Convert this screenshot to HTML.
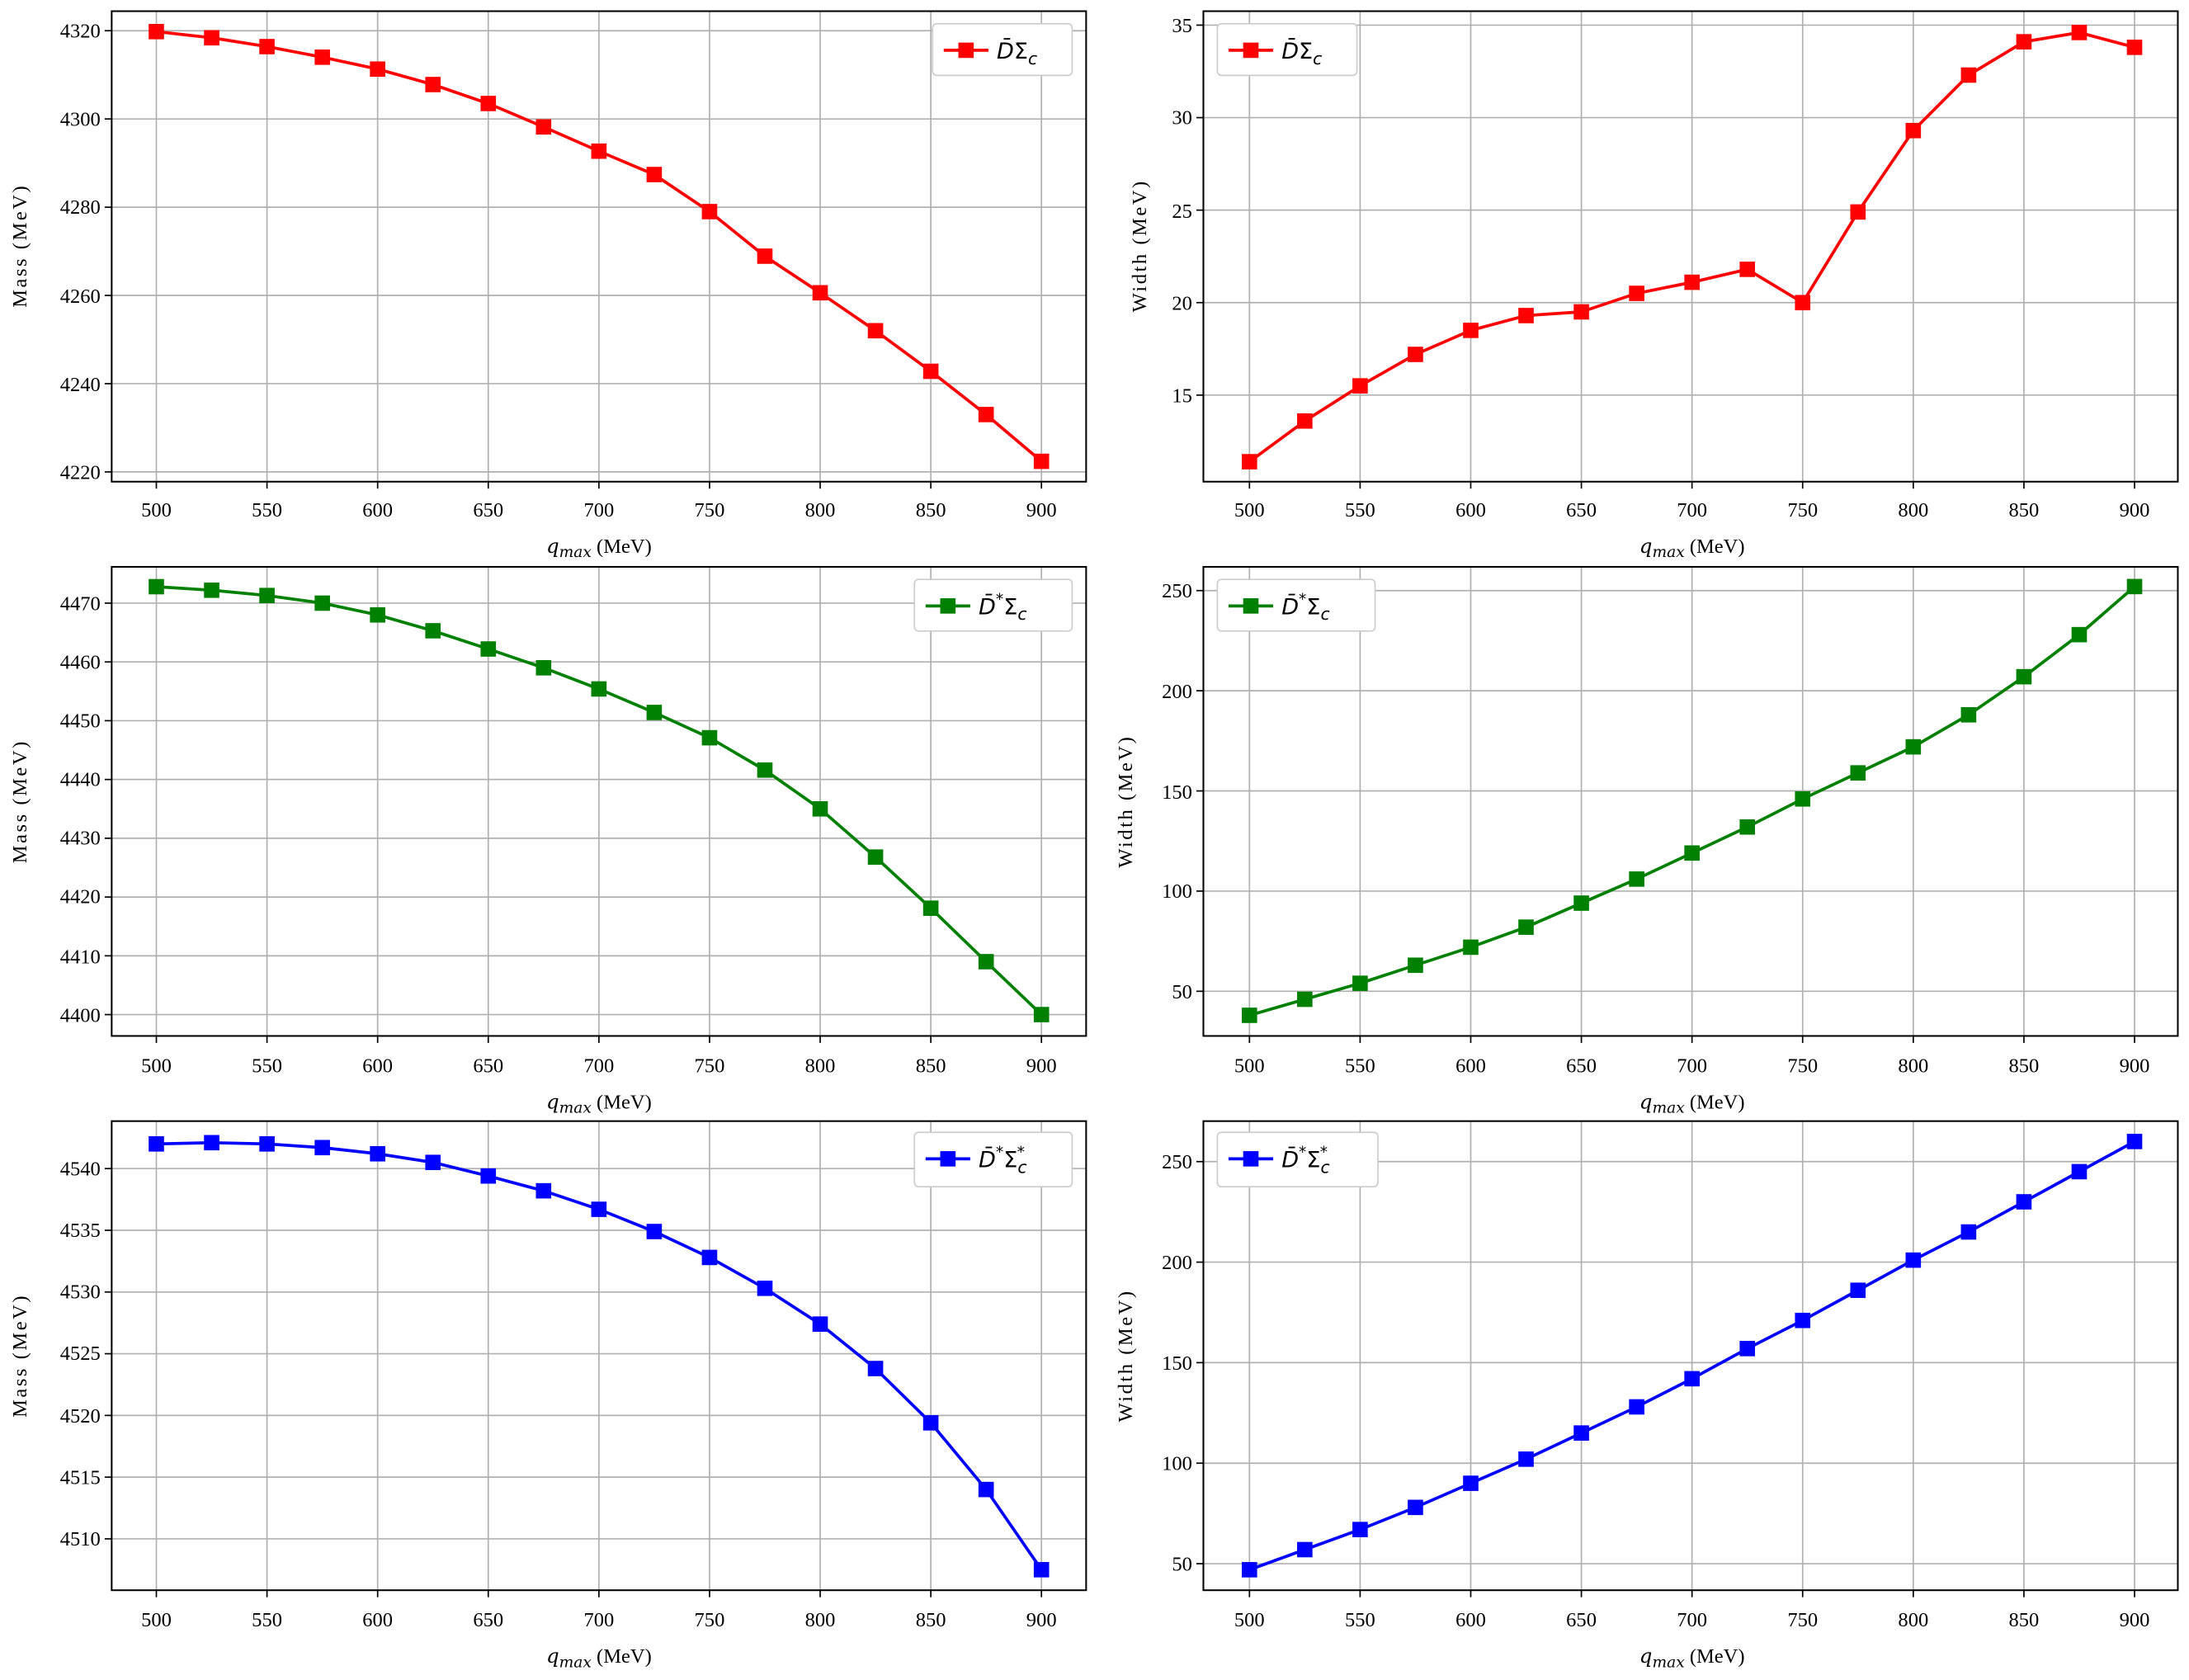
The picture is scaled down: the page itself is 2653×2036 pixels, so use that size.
<!DOCTYPE html>
<html><head><meta charset="utf-8"><style>
html,body{margin:0;padding:0;background:#fff}
svg{display:block}
text{font-family:"Liberation Serif","Noto Serif CJK SC",serif;font-size:14.5px;fill:#000}
.yt{text-anchor:end}.xt{text-anchor:middle}
.yl{letter-spacing:1.5px}
.lg{font-family:"DejaVu Sans",sans-serif;font-size:16px}
</style></head><body>
<svg id="s" width="2653" height="2036" viewBox="0 0 1568 1203.3" preserveAspectRatio="none" xmlns="http://www.w3.org/2000/svg">
<g id="grids"></g>
<g id="series"></g>
<g fill="none" stroke="#000" stroke-width="1.2">
<rect x="80" y="8" width="698" height="337"/><rect x="862" y="8" width="698" height="337"/>
<rect x="80" y="406" width="698" height="336"/><rect x="862" y="406" width="698" height="336"/>
<rect x="80" y="803" width="698" height="336"/><rect x="862" y="803" width="698" height="336"/>
</g>
<g id="xl">
<g transform="translate(0,0)">
<text class="xt" x="112" y="370">500</text><text class="xt" x="191.25" y="370">550</text><text class="xt" x="270.5" y="370">600</text><text class="xt" x="349.75" y="370">650</text><text class="xt" x="429" y="370">700</text><text class="xt" x="508.25" y="370">750</text><text class="xt" x="587.5" y="370">800</text><text class="xt" x="666.75" y="370">850</text><text class="xt" x="746" y="370">900</text>
<text class="xt" x="895" y="370">500</text><text class="xt" x="974.25" y="370">550</text><text class="xt" x="1053.5" y="370">600</text><text class="xt" x="1132.75" y="370">650</text><text class="xt" x="1212" y="370">700</text><text class="xt" x="1291.25" y="370">750</text><text class="xt" x="1370.5" y="370">800</text><text class="xt" x="1449.75" y="370">850</text><text class="xt" x="1529" y="370">900</text>
<text class="xt" x="429" y="396"><tspan font-style="italic" font-family="DejaVu Serif">q</tspan><tspan font-style="italic" font-size="11" dy="3" font-family="DejaVu Serif">max</tspan><tspan dy="-3"> (MeV)</tspan></text>
<text class="xt" x="1212" y="396"><tspan font-style="italic" font-family="DejaVu Serif">q</tspan><tspan font-style="italic" font-size="11" dy="3" font-family="DejaVu Serif">max</tspan><tspan dy="-3"> (MeV)</tspan></text>
</g>
<g transform="translate(0,398)">
<text class="xt" x="112" y="370">500</text><text class="xt" x="191.25" y="370">550</text><text class="xt" x="270.5" y="370">600</text><text class="xt" x="349.75" y="370">650</text><text class="xt" x="429" y="370">700</text><text class="xt" x="508.25" y="370">750</text><text class="xt" x="587.5" y="370">800</text><text class="xt" x="666.75" y="370">850</text><text class="xt" x="746" y="370">900</text>
<text class="xt" x="895" y="370">500</text><text class="xt" x="974.25" y="370">550</text><text class="xt" x="1053.5" y="370">600</text><text class="xt" x="1132.75" y="370">650</text><text class="xt" x="1212" y="370">700</text><text class="xt" x="1291.25" y="370">750</text><text class="xt" x="1370.5" y="370">800</text><text class="xt" x="1449.75" y="370">850</text><text class="xt" x="1529" y="370">900</text>
<text class="xt" x="429" y="396"><tspan font-style="italic" font-family="DejaVu Serif">q</tspan><tspan font-style="italic" font-size="11" dy="3" font-family="DejaVu Serif">max</tspan><tspan dy="-3"> (MeV)</tspan></text>
<text class="xt" x="1212" y="396"><tspan font-style="italic" font-family="DejaVu Serif">q</tspan><tspan font-style="italic" font-size="11" dy="3" font-family="DejaVu Serif">max</tspan><tspan dy="-3"> (MeV)</tspan></text>
</g>
<g transform="translate(0,795)">
<text class="xt" x="112" y="370">500</text><text class="xt" x="191.25" y="370">550</text><text class="xt" x="270.5" y="370">600</text><text class="xt" x="349.75" y="370">650</text><text class="xt" x="429" y="370">700</text><text class="xt" x="508.25" y="370">750</text><text class="xt" x="587.5" y="370">800</text><text class="xt" x="666.75" y="370">850</text><text class="xt" x="746" y="370">900</text>
<text class="xt" x="895" y="370">500</text><text class="xt" x="974.25" y="370">550</text><text class="xt" x="1053.5" y="370">600</text><text class="xt" x="1132.75" y="370">650</text><text class="xt" x="1212" y="370">700</text><text class="xt" x="1291.25" y="370">750</text><text class="xt" x="1370.5" y="370">800</text><text class="xt" x="1449.75" y="370">850</text><text class="xt" x="1529" y="370">900</text>
<text class="xt" x="429" y="396"><tspan font-style="italic" font-family="DejaVu Serif">q</tspan><tspan font-style="italic" font-size="11" dy="3" font-family="DejaVu Serif">max</tspan><tspan dy="-3"> (MeV)</tspan></text>
<text class="xt" x="1212" y="396"><tspan font-style="italic" font-family="DejaVu Serif">q</tspan><tspan font-style="italic" font-size="11" dy="3" font-family="DejaVu Serif">max</tspan><tspan dy="-3"> (MeV)</tspan></text>
</g>
</g>
<g>
<text class="yt" x="72" y="27">4320</text><text class="yt" x="72" y="90">4300</text><text class="yt" x="72" y="153">4280</text><text class="yt" x="72" y="217">4260</text><text class="yt" x="72" y="280">4240</text><text class="yt" x="72" y="343">4220</text>
<text class="yt" x="854" y="23">35</text><text class="yt" x="854" y="89">30</text><text class="yt" x="854" y="156">25</text><text class="yt" x="854" y="222">20</text><text class="yt" x="854" y="288">15</text>
<text class="yt" x="72" y="437">4470</text><text class="yt" x="72" y="479">4460</text><text class="yt" x="72" y="521">4450</text><text class="yt" x="72" y="563">4440</text><text class="yt" x="72" y="605">4430</text><text class="yt" x="72" y="647">4420</text><text class="yt" x="72" y="690">4410</text><text class="yt" x="72" y="732">4400</text>
<text class="yt" x="854" y="428">250</text><text class="yt" x="854" y="500">200</text><text class="yt" x="854" y="572">150</text><text class="yt" x="854" y="643">100</text><text class="yt" x="854" y="715">50</text>
<text class="yt" x="72" y="842">4540</text><text class="yt" x="72" y="886">4535</text><text class="yt" x="72" y="930">4530</text><text class="yt" x="72" y="974">4525</text><text class="yt" x="72" y="1019">4520</text><text class="yt" x="72" y="1063">4515</text><text class="yt" x="72" y="1107">4510</text>
<text class="yt" x="854" y="837">250</text><text class="yt" x="854" y="909">200</text><text class="yt" x="854" y="981">150</text><text class="yt" x="854" y="1053">100</text><text class="yt" x="854" y="1125">50</text>
</g>
<text class="xt yl" transform="translate(19,176) rotate(-90)">Mass (MeV)</text>
<text class="xt yl" transform="translate(821,176) rotate(-90)">Width (MeV)</text>
<text class="xt yl" transform="translate(19,574) rotate(-90)">Mass (MeV)</text>
<text class="xt yl" transform="translate(811,574) rotate(-90)">Width (MeV)</text>
<text class="xt yl" transform="translate(19,971) rotate(-90)">Mass (MeV)</text>
<text class="xt yl" transform="translate(811,971) rotate(-90)">Width (MeV)</text>
<g stroke-width="1" stroke="#ccc" fill="#fff">
<rect x="668" y="17" width="100" height="37" rx="3"/><rect x="872" y="17" width="100" height="37" rx="3"/>
<rect x="655" y="415" width="113" height="37" rx="3"/><rect x="872" y="415" width="113" height="37" rx="3"/>
<rect x="655" y="811" width="113" height="39" rx="3"/><rect x="872" y="811" width="115" height="39" rx="3"/>
</g>
<g stroke-width="2.2">
<line x1="676" y1="36" x2="708" y2="36" stroke="red"/><rect x="686.5" y="30.5" width="11" height="11" fill="red"/>
<line x1="880" y1="36" x2="912" y2="36" stroke="red"/><rect x="890.5" y="30.5" width="11" height="11" fill="red"/>
<line x1="663" y1="434" x2="695" y2="434" stroke="green"/><rect x="673.5" y="428.5" width="11" height="11" fill="green"/>
<line x1="880" y1="434" x2="912" y2="434" stroke="green"/><rect x="890.5" y="428.5" width="11" height="11" fill="green"/>
<line x1="663" y1="830" x2="695" y2="830" stroke="blue"/><rect x="673.5" y="824.5" width="11" height="11" fill="blue"/>
<line x1="880" y1="830" x2="912" y2="830" stroke="blue"/><rect x="890.5" y="824.5" width="11" height="11" fill="blue"/>
</g>
<g class="lg">
<text class="lg" x="714" y="42" font-style="italic">D̄<tspan font-style="normal">Σ</tspan><tspan font-size="12" dy="4">c</tspan></text>
<text class="lg" x="918" y="42" font-style="italic">D̄<tspan font-style="normal">Σ</tspan><tspan font-size="12" dy="4">c</tspan></text>
<text class="lg" x="701" y="440" font-style="italic">D̄<tspan font-size="11" dy="-7">*</tspan><tspan font-style="normal" dy="7">Σ</tspan><tspan font-size="12" dy="4">c</tspan></text>
<text class="lg" x="918" y="440" font-style="italic">D̄<tspan font-size="11" dy="-7">*</tspan><tspan font-style="normal" dy="7">Σ</tspan><tspan font-size="12" dy="4">c</tspan></text>
<text class="lg" x="701" y="836" font-style="italic">D̄<tspan font-size="11" dy="-7">*</tspan><tspan font-style="normal" dy="7">Σ</tspan><tspan font-size="12" dy="4">c</tspan><tspan font-size="11" dx="-7" dy="-11">*</tspan></text>
<text class="lg" x="918" y="836" font-style="italic">D̄<tspan font-size="11" dy="-7">*</tspan><tspan font-style="normal" dy="7">Σ</tspan><tspan font-size="12" dy="4">c</tspan><tspan font-size="11" dx="-7" dy="-11">*</tspan></text>
</g>
</svg>
<script>
var NS="http://www.w3.org/2000/svg";
function el(p,t,a){var e=document.createElementNS(NS,t);for(var k in a)e.setAttribute(k,a[k]);p.appendChild(e);return e;}
var G=document.getElementById("grids"),S=document.getElementById("series");
var P=[
 {x0:112,top:8,bot:345,l:80,r:778,c:"red",f:function(v){return 22+(4320-v)*3.16},t:[4320,4300,4280,4260,4240,4220],
  d:[4319.8,4318.4,4316.4,4314,4311.3,4307.8,4303.5,4298.2,4292.7,4287.4,4279,4268.9,4260.6,4252,4242.8,4233,4222.4]},
 {x0:895,top:8,bot:345,l:862,r:1560,c:"red",f:function(v){return 18+(35-v)*13.25},t:[35,30,25,20,15],
  d:[11.4,13.6,15.5,17.2,18.5,19.3,19.5,20.5,21.1,21.8,20.0,24.9,29.3,32.3,34.1,34.6,33.8]},
 {x0:112,top:406,bot:742,l:80,r:778,c:"green",f:function(v){return 432+(4470-v)*4.21},t:[4470,4460,4450,4440,4430,4420,4410,4400],
  d:[4472.8,4472.2,4471.3,4470,4468,4465.3,4462.2,4459,4455.4,4451.4,4447.1,4441.6,4435,4426.8,4418.1,4409,4400]},
 {x0:895,top:406,bot:742,l:862,r:1560,c:"green",f:function(v){return 423+(250-v)*1.435},t:[250,200,150,100,50],
  d:[38,46,54,63,72,82,94,106,119,132,146,159,172,188,207,228,252]},
 {x0:112,top:803,bot:1139,l:80,r:778,c:"blue",f:function(v){return 837+(4540-v)*8.84},t:[4540,4535,4530,4525,4520,4515,4510],
  d:[4542,4542.1,4542,4541.7,4541.2,4540.5,4539.4,4538.2,4536.7,4534.9,4532.8,4530.3,4527.4,4523.8,4519.4,4514,4507.5]},
 {x0:895,top:803,bot:1139,l:862,r:1560,c:"blue",f:function(v){return 832+(250-v)*1.44},t:[250,200,150,100,50],
  d:[47,57,67,78,90,102,115,128,142,157,171,186,201,215,230,245,260]}
];
P.forEach(function(p){
 for(var i=0;i<9;i++){var x=p.x0+i*79.25;el(G,"line",{x1:x,x2:x,y1:p.top,y2:p.bot,stroke:"#b0b0b0","stroke-width":1});
   el(G,"line",{x1:x,x2:x,y1:p.bot,y2:p.bot+5,stroke:"#000","stroke-width":1});}
 p.t.forEach(function(v){var y=p.f(v);el(G,"line",{x1:p.l,x2:p.r,y1:y,y2:y,stroke:"#b0b0b0","stroke-width":1});
   el(G,"line",{x1:p.l-5,x2:p.l,y1:y,y2:y,stroke:"#000","stroke-width":1});});
 var pts=p.d.map(function(v,i){return (p.x0+i*39.625)+","+p.f(v)}).join(" ");
 el(S,"polyline",{points:pts,fill:"none",stroke:p.c,"stroke-width":2.2});
 p.d.forEach(function(v,i){el(S,"rect",{x:p.x0+i*39.625-5.5,y:p.f(v)-5.5,width:11,height:11,fill:p.c});});
});
</script>
</body></html>
